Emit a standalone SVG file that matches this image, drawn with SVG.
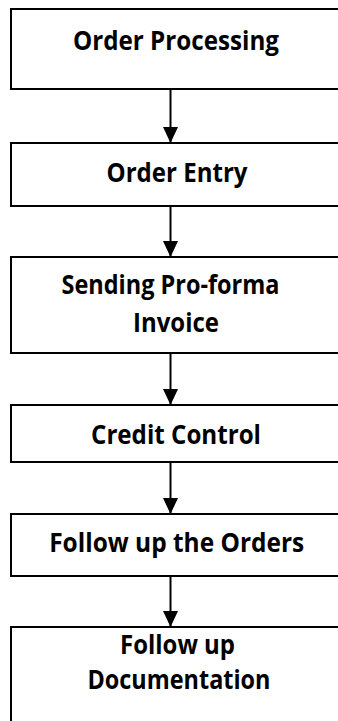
<svg xmlns="http://www.w3.org/2000/svg" width="338" height="721" viewBox="0 0 338 721">
<defs>
<style>
.box{fill:#fff;stroke:#000;stroke-width:2}
.t{font-family:"Open Sans","Liberation Sans",sans-serif;font-weight:bold;font-size:27px;fill:#000;text-anchor:middle}
.c{stroke:#000;stroke-width:2;fill:none;marker-end:url(#ah)}
</style>
<marker id="ah" markerUnits="userSpaceOnUse" markerWidth="16" markerHeight="16" viewBox="0 0 16 16" refX="16" refY="8" orient="auto">
<path d="M0,0.5 L16,8 L0,15.5 Z" fill="#000"/>
</marker>
</defs>
<g id="connectors">
<path class="c" d="M170.5,89 V143"/>
<path class="c" d="M170.5,206 V257"/>
<path class="c" d="M170.5,353 V405"/>
<path class="c" d="M170.5,462 V514"/>
<path class="c" d="M170.5,576 V627"/>
</g>
<g id="n1">
<rect class="box" x="11" y="9" width="335" height="80"/>
<text class="t" x="176" y="50" textLength="206" lengthAdjust="spacingAndGlyphs">Order Processing</text>
</g>
<g id="n2">
<rect class="box" x="11" y="143" width="335" height="63"/>
<text class="t" x="177" y="182" textLength="141" lengthAdjust="spacingAndGlyphs">Order Entry</text>
</g>
<g id="n3">
<rect class="box" x="11" y="257" width="335" height="96"/>
<text class="t" x="170.5" y="294" textLength="218" lengthAdjust="spacingAndGlyphs">Sending Pro-forma</text>
<text class="t" x="176" y="332" textLength="86" lengthAdjust="spacingAndGlyphs">Invoice</text>
</g>
<g id="n4">
<rect class="box" x="11" y="405" width="335" height="57"/>
<text class="t" x="176" y="443.5" textLength="170" lengthAdjust="spacingAndGlyphs">Credit Control</text>
</g>
<g id="n5">
<rect class="box" x="11" y="514" width="335" height="62"/>
<text class="t" x="176.7" y="552" textLength="255" lengthAdjust="spacingAndGlyphs">Follow up the Orders</text>
</g>
<g id="n6">
<rect class="box" x="11" y="627" width="335" height="110"/>
<text class="t" x="177.5" y="653.5" textLength="115" lengthAdjust="spacingAndGlyphs">Follow up</text>
<text class="t" x="179" y="689" textLength="183" lengthAdjust="spacingAndGlyphs">Documentation</text>
</g>
</svg>
